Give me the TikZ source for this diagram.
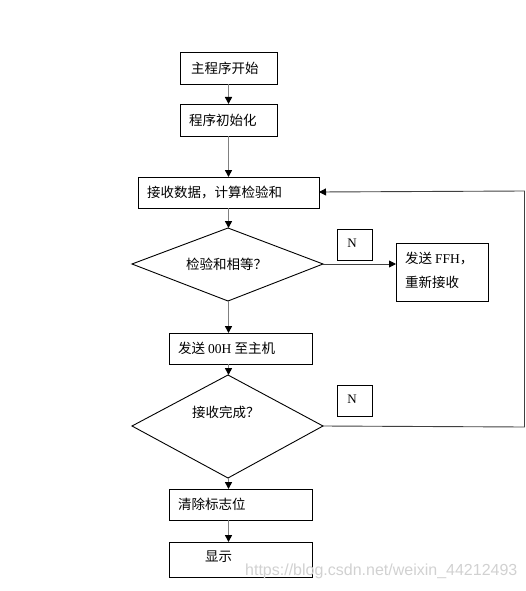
\documentclass[tikz,border=0pt]{standalone}
\usepackage{fontspec}
\setmainfont{Liberation Serif}
\newfontfamily\cjk{Noto Sans CJK SC}
\newfontfamily\wmfont{Liberation Sans}
\usetikzlibrary{arrows.meta}
\tikzset{
  box/.style={draw=black, line width=0.9pt, fill=white},
  lbl/.style={inner sep=0pt, anchor=west, font=\cjk\fontsize{13.5}{16}\selectfont},
  conn/.style={draw=black!50, line width=1.6pt, -{Triangle[length=7pt,width=7pt,black]}},
  thin/.style={draw=black!75, line width=0.9pt, -{Triangle[length=7pt,width=7pt,black]}},
}
\begin{document}
\begin{tikzpicture}[x=1pt,y=-1pt]
\useasboundingbox (0,0) rectangle (526,591);
% boxes
\draw[box] (180,52) rectangle (277,84); \coordinate (b1) at (228.5,84);
\node[lbl] (t1) at (191,68) {主程序开始};
\draw[box] (180,104) rectangle (277,136);
\coordinate (b2t) at (228.5,104); \coordinate (b2b) at (228.5,136);
\node[lbl] (t2) at (189,120) {程序初始化};
\draw[box] (138,177) rectangle (319,208);
\coordinate (b3t) at (228.5,177); \coordinate (b3b) at (228.5,208); \coordinate (b3r) at (319,192);
\node[lbl] (t3) at (147,192.5) {接收数据，计算检验和};
% diamond 1
\draw[box] (132,264) -- (228,228) -- (323,264) -- (228,301) -- cycle;
\coordinate (d1t) at (228.5,228); \coordinate (d1b) at (228.5,301); \coordinate (d1r) at (323,264);
\node[lbl] (t4) at (186,264) {检验和相等？};
% N box 1
\draw[box] (337,229) rectangle (372,260);
\node[inner sep=0pt, font=\fontsize{13}{16}\selectfont] (n1) at (352,243.5) {N};
% box FFH
\draw[box] (396,243) rectangle (488,301); \coordinate (b4l) at (396,264);
\node[lbl] (t5) at (405,259) {发送 {\rmfamily FFH}，};
\node[lbl] (t6) at (405,282) {重新接收};
% box 00H
\draw[box] (169,333) rectangle (312,364);
\coordinate (b5t) at (228.5,333); \coordinate (b5b) at (228.5,364);
\node[lbl] (t7) at (178,348.5) {发送 {\rmfamily 00H} 至主机};
% diamond 2
\draw[box] (132,426) -- (228,375) -- (323,426) -- (228,478) -- cycle;
\coordinate (d2t) at (228.5,375); \coordinate (d2b) at (228.5,478); \coordinate (d2r) at (323,426);
\node[lbl] (t8) at (192,412) {接收完成？};
% N box 2
\draw[box] (337,385) rectangle (372,416);
\node[inner sep=0pt, font=\fontsize{13}{16}\selectfont] (n2) at (352,399.5) {N};
% box clear
\draw[box] (169,489) rectangle (312,520);
\coordinate (b6t) at (228.5,489); \coordinate (b6b) at (228.5,520);
\node[lbl] (t9) at (178,504.5) {清除标志位};
% box display
\draw[box] (169,542) rectangle (312,577);
\coordinate (b7t) at (228.5,542);
\node[lbl] (t10) at (205,557) {显示};
% connectors
\draw[conn] (b1) -- (b2t);
\draw[conn] (b2b) -- (b3t);
\draw[conn] (b3b) -- (d1t);
\draw[conn] (d1b) -- (b5t);
\draw[conn] (b5b) -- (d2t);
\draw[conn] (d2b) -- (b6t);
\draw[conn] (b6b) -- (b7t);
\draw[thin] (d1r) -- (b4l);
\coordinate (c1) at (524.5,427); \coordinate (c2) at (524.5,191);
\draw[thin] (d2r) -- (c1) -- (c2) -- (b3r);
% watermark
\node[inner sep=0pt, anchor=west, font=\wmfont\fontsize{16}{19}\selectfont, text=black!18] (wm) at (245,571) {https://blog.csdn.net/weixin\_44212493};
\end{tikzpicture}
\end{document}
